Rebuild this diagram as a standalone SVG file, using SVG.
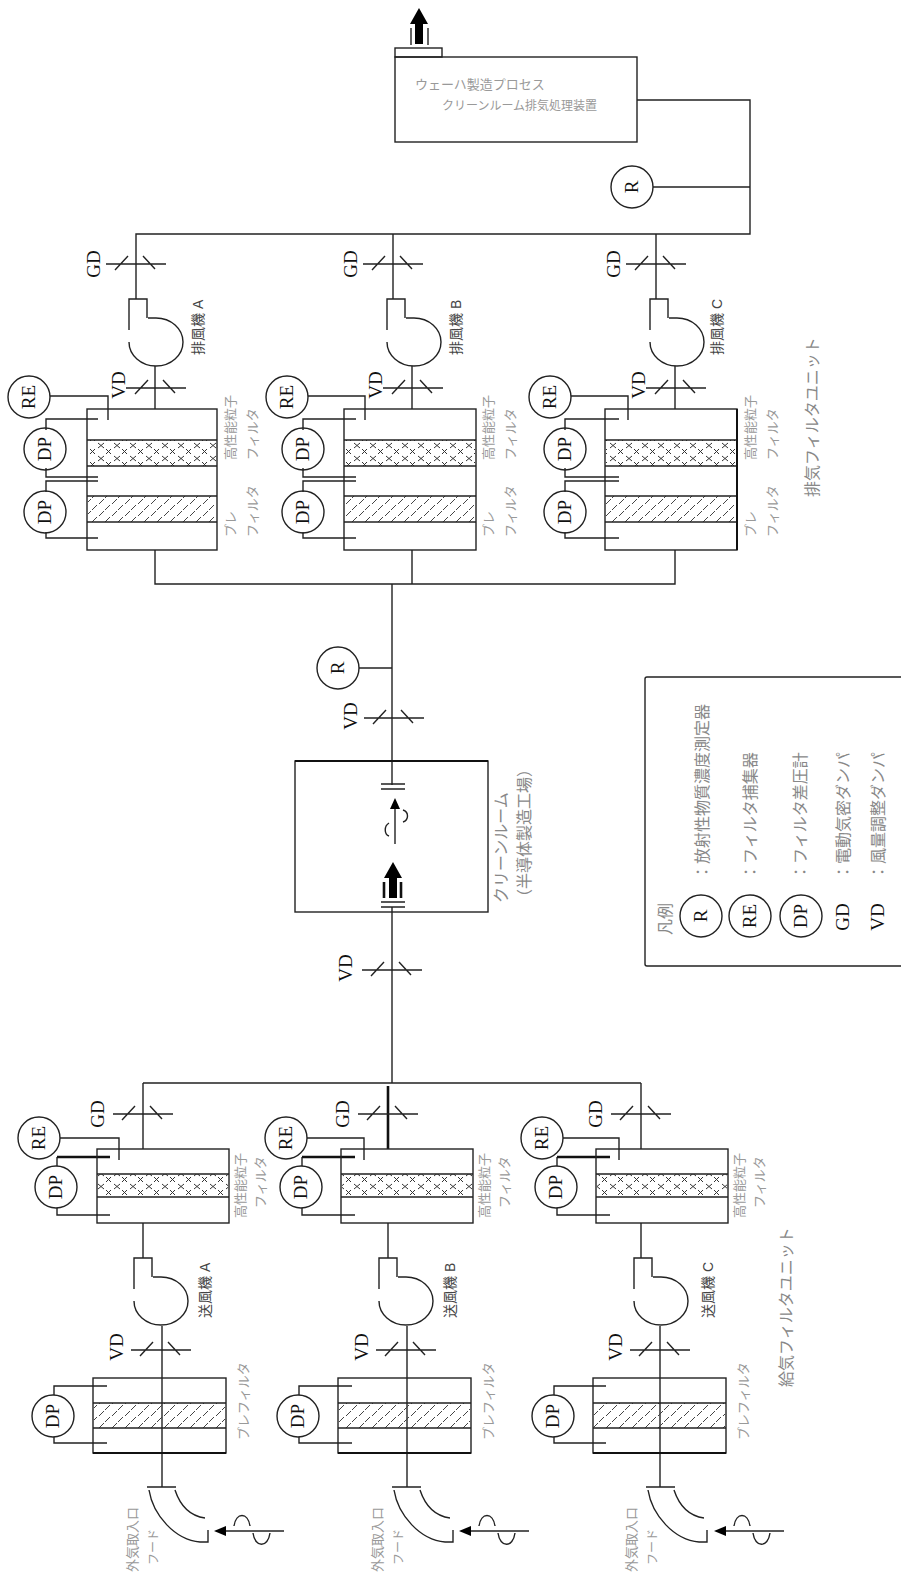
<svg xmlns="http://www.w3.org/2000/svg" width="901" height="1576" viewBox="0 0 901 1576">
<style>
.l{stroke:#222;stroke-width:1.4;fill:none}
.h{stroke:#111;stroke-width:2.6;fill:none}
.c{stroke:#222;stroke-width:1.4;fill:#fff}
.s{font-family:"Liberation Serif",serif;font-size:19px;fill:#111;text-anchor:middle}
.j{font-family:"Liberation Sans","Noto Sans CJK JP",sans-serif;font-size:13px;fill:#999}
.k{font-family:"Liberation Sans","Noto Sans CJK JP",sans-serif;font-size:16px;fill:#888}
.m{font-family:"Liberation Sans","Noto Sans CJK JP",sans-serif;font-size:14px;fill:#444}
</style>
<defs>
<pattern id="xh" width="16" height="13" patternUnits="userSpaceOnUse">
<path d="M2 1l6 5M8 1l-6 5M10 7l5 5M15 7l-5 5" stroke="#333" stroke-width="1" fill="none"/>
</pattern>
<pattern id="dh" width="13" height="12" patternUnits="userSpaceOnUse">
<path d="M1 6l5-5M8 12l5-5" stroke="#444" stroke-width="1" fill="none"/>
</pattern>
<g id="dmp"><path class="l" d="M-30 0H30M-21 6L-8 -8M7 -8L19 5"/></g>
<path id="fan" class="l" d="M0 31V0H18V19M19 19H27A27 24 0 0 1 27 67A27 24 0 0 1 0 43"/>
<path id="elbow" class="l" d="M147 1487H176M149 1490C153 1515 175 1540 200 1542H208V1530M175 1490C180 1505 190 1516 205 1518"/>
<path id="bigarrow" fill="#000" stroke="none" d="M0 0L9 16H4V36H-4V16H-9Z"/>
</defs>

<g id="connectors">
<path class="l" d="M637 100H750V234H136V299M393 234V299M656 234V299M653 187H750"/>
<path class="l" d="M155 366V409M412 366V409M675 366V409"/>
<path class="l" d="M155 550V584H675V550M412 550V584M392 584V761"/>
<path class="l" d="M359 668H392"/>
<path class="l" d="M392 761V785M392 907V1083M143 1083H641"/>
<path class="l" d="M143 1083V1149M641 1083V1149"/>
<path class="h" d="M388 1086V1149"/>
<path class="l" d="M143 1223V1258M388 1223V1258M641 1223V1258"/>
<path class="l" d="M162 1326V1487M407 1326V1487M660 1326V1487"/>
</g>

<g id="outlet-box">
<rect class="l" x="395" y="57" width="242" height="85"/>
<rect class="l" x="395" y="48" width="47" height="9"/>
<use href="#bigarrow" x="419" y="8"/>
<path class="l" d="M411 28V45M428 28V45"/>
<text class="j" x="415" y="89" style="font-size:13px">ウェーハ製造プロセス</text>
<text class="j" x="442" y="110" style="font-size:12px">クリーンルーム排気処理装置</text>
</g>
<g id="r-top"><circle class="c" cx="632" cy="187" r="21"/><text class="s" transform="translate(632 187) rotate(-90)" y="6">R</text></g>

<g id="exhaust-a">
<g id="gd-ea"><use href="#dmp" x="136" y="264"/><text class="s" transform="translate(94 264) rotate(-90)" y="6">GD</text></g>
<g id="fan-ea"><use href="#fan" x="129" y="299"/><text class="m" transform="translate(203 355) rotate(-90)">排風機 A</text></g>
<g id="vd-ea"><use href="#dmp" x="156" y="388"/><text class="s" transform="translate(119 385) rotate(-90)" y="6">VD</text></g>
<g id="filter-ea">
<rect class="l" x="87" y="409" width="130" height="141"/>
<rect x="88" y="440" width="128" height="26" fill="url(#xh)"/><rect x="88" y="496" width="128" height="26" fill="url(#dh)"/>
<path class="l" d="M87 440H217M87 466H217M87 496H217M87 522H217"/>
<text class="j" transform="translate(235 460) rotate(-90)">高性能粒子</text><text class="j" transform="translate(257 460) rotate(-90)">フィルタ</text>
<text class="j" transform="translate(235 537) rotate(-90)">プレ</text><text class="j" transform="translate(257 537) rotate(-90)">フィルタ</text>
</g>
<g id="re-ea"><circle class="c" cx="29" cy="397" r="21"/><text class="s" transform="translate(29 397) rotate(-90)" y="6">RE</text><path class="l" d="M50 396H108V420"/></g>
<g id="dp1-ea"><circle class="c" cx="45" cy="449" r="21"/><text class="s" transform="translate(45 449) rotate(-90)" y="6">DP</text><path class="l" d="M46 430V419H98M46 468V477H98"/></g>
<g id="dp2-ea"><circle class="c" cx="45" cy="512" r="21"/><text class="s" transform="translate(45 512) rotate(-90)" y="6">DP</text><path class="l" d="M46 492V481H98M46 532V538H98"/></g>
</g>

<g id="exhaust-b">
<g id="gd-eb"><use href="#dmp" x="393" y="264"/><text class="s" transform="translate(351 264) rotate(-90)" y="6">GD</text></g>
<g id="fan-eb"><use href="#fan" x="387" y="299"/><text class="m" transform="translate(461 355) rotate(-90)">排風機 B</text></g>
<g id="vd-eb"><use href="#dmp" x="413" y="388"/><text class="s" transform="translate(376 385) rotate(-90)" y="6">VD</text></g>
<g id="filter-eb">
<rect class="l" x="344" y="409" width="132" height="141"/>
<rect x="345" y="440" width="130" height="26" fill="url(#xh)"/><rect x="345" y="496" width="130" height="26" fill="url(#dh)"/>
<path class="l" d="M344 440H476M344 466H476M344 496H476M344 522H476"/>
<text class="j" transform="translate(493 460) rotate(-90)">高性能粒子</text><text class="j" transform="translate(515 460) rotate(-90)">フィルタ</text>
<text class="j" transform="translate(493 537) rotate(-90)">プレ</text><text class="j" transform="translate(515 537) rotate(-90)">フィルタ</text>
</g>
<g id="re-eb"><circle class="c" cx="287" cy="397" r="21"/><text class="s" transform="translate(287 397) rotate(-90)" y="6">RE</text><path class="l" d="M308 396H365V420"/></g>
<g id="dp1-eb"><circle class="c" cx="303" cy="449" r="21"/><text class="s" transform="translate(303 449) rotate(-90)" y="6">DP</text><path class="l" d="M303 430V419H356M303 468V477H356"/></g>
<g id="dp2-eb"><circle class="c" cx="303" cy="512" r="21"/><text class="s" transform="translate(303 512) rotate(-90)" y="6">DP</text><path class="l" d="M303 492V481H356M303 532V538H356"/></g>
</g>

<g id="exhaust-c">
<g id="gd-ec"><use href="#dmp" x="656" y="264"/><text class="s" transform="translate(614 264) rotate(-90)" y="6">GD</text></g>
<g id="fan-ec"><use href="#fan" x="650" y="299"/><text class="m" transform="translate(722 355) rotate(-90)">排風機 C</text></g>
<g id="vd-ec"><use href="#dmp" x="676" y="388"/><text class="s" transform="translate(639 385) rotate(-90)" y="6">VD</text></g>
<g id="filter-ec">
<rect class="l" x="605" y="409" width="132" height="141"/>
<rect x="606" y="440" width="130" height="26" fill="url(#xh)"/><rect x="606" y="496" width="130" height="26" fill="url(#dh)"/>
<path class="l" d="M605 440H737M605 466H737M605 496H737M605 522H737"/>
<path class="h" d="M737 409V550" style="stroke-width:2"/>
<text class="j" transform="translate(755 460) rotate(-90)">高性能粒子</text><text class="j" transform="translate(777 460) rotate(-90)">フィルタ</text>
<text class="j" transform="translate(755 537) rotate(-90)">プレ</text><text class="j" transform="translate(777 537) rotate(-90)">フィルタ</text>
</g>
<g id="re-ec"><circle class="c" cx="550" cy="397" r="21"/><text class="s" transform="translate(550 397) rotate(-90)" y="6">RE</text><path class="l" d="M571 396H628V420"/></g>
<g id="dp1-ec"><circle class="c" cx="565" cy="449" r="21"/><text class="s" transform="translate(565 449) rotate(-90)" y="6">DP</text><path class="l" d="M565 430V419H619M565 468V477H619"/></g>
<g id="dp2-ec"><circle class="c" cx="565" cy="512" r="21"/><text class="s" transform="translate(565 512) rotate(-90)" y="6">DP</text><path class="l" d="M565 492V481H619M565 532V538H619"/></g>
</g>
<text id="exhaust-label" class="k" transform="translate(818 497) rotate(-90)">排気フィルタユニット</text>

<g id="r-mid"><circle class="c" cx="338" cy="668" r="21"/><text class="s" transform="translate(338 668) rotate(-90)" y="6">R</text></g>
<g id="vd-mid1"><use href="#dmp" x="394" y="718"/><text class="s" transform="translate(351 716) rotate(-90)" y="6">VD</text></g>
<g id="room">
<rect class="l" x="295" y="761" width="193" height="151"/>
<path class="h" d="M295 761H488" style="stroke-width:2"/>
<path class="l" d="M381 784H405M381 789H405M381 902H405M381 907H405"/>
<path class="l" d="M395 844V808"/>
<path fill="#000" d="M395 798L400 809H390Z"/>
<path class="l" d="M389 823C384 826 384 834 389 836M403 810C409 812 409 820 403 822"/>
<use href="#bigarrow" x="393" y="862"/>
<path class="h" d="M384 882V898M401 882V898"/>
<text class="k" transform="translate(507 903) rotate(-90)">クリーンルーム</text>
<text class="k" transform="translate(530 905) rotate(-90)">（半導体製造工場）</text>
</g>
<g id="vd-mid2"><use href="#dmp" x="392" y="970"/><text class="s" transform="translate(346 968) rotate(-90)" y="6">VD</text></g>

<g id="legend">
<path class="l" d="M901 677H647Q645 677 645 679V964Q645 966 647 966H901"/>
<text class="k" transform="translate(671 935) rotate(-90)">凡例</text>
<circle class="c" cx="701" cy="916" r="21"/><text class="s" transform="translate(701 916) rotate(-90)" y="6">R</text>
<circle class="c" cx="750" cy="916" r="21"/><text class="s" transform="translate(750 916) rotate(-90)" y="6">RE</text>
<circle class="c" cx="801" cy="916" r="21"/><text class="s" transform="translate(801 916) rotate(-90)" y="6">DP</text>
<text class="s" transform="translate(843 917) rotate(-90)" y="6">GD</text>
<text class="s" transform="translate(878 917) rotate(-90)" y="6">VD</text>
<text class="k" transform="translate(708 880) rotate(-90)">：放射性物質濃度測定器</text>
<text class="k" transform="translate(756 880) rotate(-90)">：フィルタ捕集器</text>
<text class="k" transform="translate(806 880) rotate(-90)">：フィルタ差圧計</text>
<text class="k" transform="translate(849 880) rotate(-90)">：電動気密ダンパ</text>
<text class="k" transform="translate(884 880) rotate(-90)">：風量調整ダンパ</text>
</g>

<g id="supply-a">
<g id="gd-sa"><use href="#dmp" x="143" y="1114"/><text class="s" transform="translate(98 1114) rotate(-90)" y="6">GD</text></g>
<g id="re-sa"><circle class="c" cx="39" cy="1138" r="21"/><text class="s" transform="translate(39 1138) rotate(-90)" y="6">RE</text><path class="l" d="M60 1138H119V1160"/></g>
<g id="dp-sa"><circle class="c" cx="56" cy="1187" r="21"/><text class="s" transform="translate(56 1187) rotate(-90)" y="6">DP</text><path class="l" d="M57 1166V1157"/><path class="h" d="M57 1157H110"/><path class="l" d="M57 1208V1215H110"/></g>
<g id="hepa-sa">
<rect class="l" x="97" y="1149" width="132" height="74"/>
<rect x="98" y="1174" width="130" height="23" fill="url(#xh)"/>
<path class="l" d="M97 1174H229M97 1197H229"/>
<text class="j" transform="translate(245 1218) rotate(-90)">高性能粒子</text><text class="j" transform="translate(265 1208) rotate(-90)">フィルタ</text>
</g>
<g id="fan-sa"><use href="#fan" x="134" y="1258"/><text class="m" transform="translate(210 1318) rotate(-90)">送風機 A</text></g>
<g id="vd-sa"><use href="#dmp" x="161" y="1350"/><text class="s" transform="translate(117 1347) rotate(-90)" y="6">VD</text></g>
<g id="pre-sa">
<rect class="l" x="93" y="1378" width="133" height="75"/>
<rect x="94" y="1403" width="131" height="25" fill="url(#dh)"/>
<path class="l" d="M93 1403H226M93 1428H226"/><path class="h" d="M93 1453H226" style="stroke-width:2"/>
<text class="j" transform="translate(248 1440) rotate(-90)">プレフィルタ</text>
</g>
<g id="dpl-sa"><circle class="c" cx="53" cy="1416" r="21"/><text class="s" transform="translate(53 1416) rotate(-90)" y="6">DP</text><path class="l" d="M54 1395V1386H107M54 1437V1443H107"/></g>
<g id="elbow-sa"><use href="#elbow"/>
<text class="j" transform="translate(137 1572) rotate(-90)">外気取入口</text><text class="j" style="font-size:12px" transform="translate(158 1565) rotate(-90)">フード</text></g>
<g id="arrow-sa"><path class="l" d="M284 1531H224"/><path fill="#000" d="M214 1531L226 1526V1536Z"/><path class="l" d="M234 1526C236 1512 248 1512 250 1526M253 1533C255 1548 268 1548 270 1533"/></g>
</g>

<g id="supply-b">
<g id="gd-sb"><use href="#dmp" x="388" y="1114"/><text class="s" transform="translate(343 1114) rotate(-90)" y="6">GD</text></g>
<g id="re-sb"><circle class="c" cx="286" cy="1138" r="21"/><text class="s" transform="translate(286 1138) rotate(-90)" y="6">RE</text><path class="l" d="M307 1138H364V1160"/></g>
<g id="dp-sb"><circle class="c" cx="301" cy="1187" r="21"/><text class="s" transform="translate(301 1187) rotate(-90)" y="6">DP</text><path class="l" d="M302 1166V1157"/><path class="h" d="M302 1157H355"/><path class="l" d="M302 1208V1215H355"/></g>
<g id="hepa-sb">
<rect class="l" x="341" y="1149" width="132" height="74"/>
<rect x="342" y="1174" width="130" height="23" fill="url(#xh)"/>
<path class="l" d="M341 1174H473M341 1197H473"/>
<text class="j" transform="translate(489 1218) rotate(-90)">高性能粒子</text><text class="j" transform="translate(509 1208) rotate(-90)">フィルタ</text>
</g>
<g id="fan-sb"><use href="#fan" x="379" y="1258"/><text class="m" transform="translate(455 1318) rotate(-90)">送風機 B</text></g>
<g id="vd-sb"><use href="#dmp" x="406" y="1350"/><text class="s" transform="translate(362 1347) rotate(-90)" y="6">VD</text></g>
<g id="pre-sb">
<rect class="l" x="338" y="1378" width="133" height="75"/>
<rect x="339" y="1403" width="131" height="25" fill="url(#dh)"/>
<path class="l" d="M338 1403H471M338 1428H471"/><path class="h" d="M338 1453H471" style="stroke-width:2"/>
<text class="j" transform="translate(493 1440) rotate(-90)">プレフィルタ</text>
</g>
<g id="dpl-sb"><circle class="c" cx="298" cy="1416" r="21"/><text class="s" transform="translate(298 1416) rotate(-90)" y="6">DP</text><path class="l" d="M299 1395V1386H352M299 1437V1443H352"/></g>
<g id="elbow-sb"><use href="#elbow" x="245"/>
<text class="j" transform="translate(382 1572) rotate(-90)">外気取入口</text><text class="j" style="font-size:12px" transform="translate(403 1565) rotate(-90)">フード</text></g>
<g id="arrow-sb"><path class="l" d="M529 1531H469"/><path fill="#000" d="M459 1531L471 1526V1536Z"/><path class="l" d="M479 1526C481 1512 493 1512 495 1526M498 1533C500 1548 513 1548 515 1533"/></g>
</g>

<g id="supply-c">
<g id="gd-sc"><use href="#dmp" x="641" y="1114"/><text class="s" transform="translate(596 1114) rotate(-90)" y="6">GD</text></g>
<g id="re-sc"><circle class="c" cx="542" cy="1138" r="21"/><text class="s" transform="translate(542 1138) rotate(-90)" y="6">RE</text><path class="l" d="M563 1138H619V1160"/></g>
<g id="dp-sc"><circle class="c" cx="556" cy="1187" r="21"/><text class="s" transform="translate(556 1187) rotate(-90)" y="6">DP</text><path class="l" d="M557 1166V1157"/><path class="h" d="M557 1157H610"/><path class="l" d="M557 1208V1215H610"/></g>
<g id="hepa-sc">
<rect class="l" x="596" y="1149" width="132" height="74"/>
<rect x="597" y="1174" width="130" height="23" fill="url(#xh)"/>
<path class="l" d="M596 1174H728M596 1197H728"/>
<text class="j" transform="translate(744 1218) rotate(-90)">高性能粒子</text><text class="j" transform="translate(764 1208) rotate(-90)">フィルタ</text>
</g>
<g id="fan-sc"><use href="#fan" x="634" y="1258"/><text class="m" transform="translate(713 1318) rotate(-90)">送風機 C</text></g>
<g id="vd-sc"><use href="#dmp" x="660" y="1350"/><text class="s" transform="translate(616 1347) rotate(-90)" y="6">VD</text></g>
<g id="pre-sc">
<rect class="l" x="593" y="1378" width="133" height="75"/>
<rect x="594" y="1403" width="131" height="25" fill="url(#dh)"/>
<path class="l" d="M593 1403H726M593 1428H726"/><path class="h" d="M593 1453H726" style="stroke-width:2"/>
<text class="j" transform="translate(748 1440) rotate(-90)">プレフィルタ</text>
</g>
<g id="dpl-sc"><circle class="c" cx="553" cy="1416" r="21"/><text class="s" transform="translate(553 1416) rotate(-90)" y="6">DP</text><path class="l" d="M554 1395V1386H606M554 1437V1443H606"/></g>
<g id="elbow-sc"><use href="#elbow" x="499"/>
<text class="j" transform="translate(636 1572) rotate(-90)">外気取入口</text><text class="j" style="font-size:12px" transform="translate(657 1565) rotate(-90)">フード</text></g>
<g id="arrow-sc"><path class="l" d="M784 1531H724"/><path fill="#000" d="M714 1531L726 1526V1536Z"/><path class="l" d="M734 1526C736 1512 748 1512 750 1526M753 1533C755 1548 768 1548 770 1533"/></g>
</g>
<text id="supply-label" class="k" transform="translate(792 1387) rotate(-90)">給気フィルタユニット</text>
</svg>
